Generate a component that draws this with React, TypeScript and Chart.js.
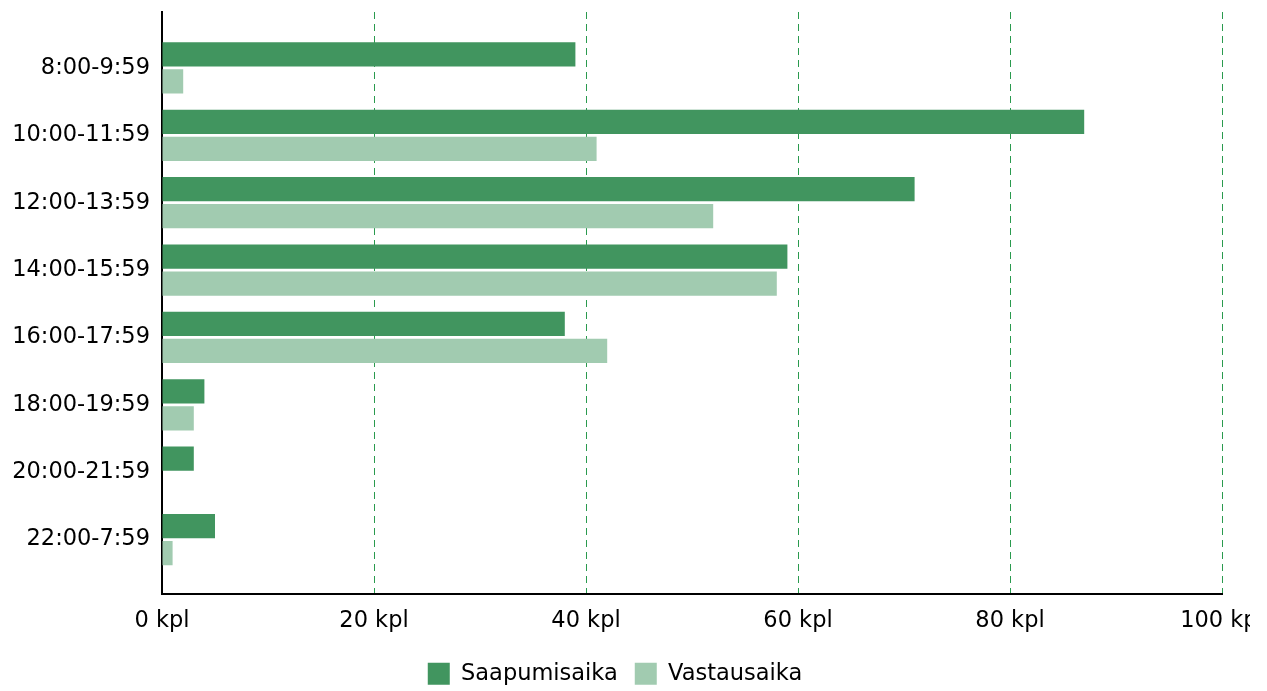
import React, { useEffect, useRef } from "react";
import { Chart, registerables } from "chart.js";

Chart.register(...registerables);

const categories = [
  "8:00-9:59",
  "10:00-11:59",
  "12:00-13:59",
  "14:00-15:59",
  "16:00-17:59",
  "18:00-19:59",
  "20:00-21:59",
  "22:00-7:59",
];
const saapumisaika = [39, 87, 71, 59, 38, 4, 3, 5];
const vastausaika = [2, 41, 52, 58, 42, 3, 0, 1];
const xTicks = [0, 20, 40, 60, 80, 100];
const seriesNames = ["Saapumisaika", "Vastausaika"];

const CANVAS_W = 1259;
const CANVAS_H = 687;

export default function App() {
  const ref = useRef<HTMLCanvasElement | null>(null);

  useEffect(() => {
    if (!ref.current) return;
    document.body.style.overflow = "hidden";
    Chart.defaults.font.family = "'DejaVu Sans', sans-serif";
    Chart.defaults.font.size = 22.5;
    Chart.defaults.color = "#000";
    const chart = new Chart(ref.current, {
      type: "bar",
      data: {
        datasets: [
          {
            label: seriesNames[0],
            data: saapumisaika.map((v, i) => ({ x: v, y: i })),
            backgroundColor: "#41955f",
            borderWidth: 0,
          },
          {
            label: seriesNames[1],
            data: vastausaika.map((v, i) => ({ x: v, y: i })),
            backgroundColor: "#a1cbb0",
            borderWidth: 0,
          },
        ],
      },
      options: {
        indexAxis: "y",
        responsive: false,
        animation: false,
        layout: { padding: { top: 4, right: 45, left: 0, bottom: 0 } },
        plugins: {
          legend: {
            position: "bottom",
            labels: {
              boxWidth: 22,
              boxHeight: 22,
              padding: 17,
              font: { size: 22.5 },
              color: "#000",
            },
          },
          tooltip: { enabled: false },
        },
        scales: {
          y: {
            type: "linear",
            reverse: true,
            offset: false,
            min: -0.83,
            max: 7.8,
            afterBuildTicks: (scale: any) => {
              scale.ticks = categories.map((_, i) => ({ value: i }));
            },
            afterFit: (scale: any) => {
              scale.width = 154;
              scale.paddingTop = 0;
              scale.paddingBottom = 0;
            },
            ticks: {
              padding: 12,
              autoSkip: false,
              callback: (v: any) => categories[v as number] ?? "",
            },
            grid: { display: false, drawTicks: false, offset: false },
            border: { color: "#000", width: 2 },
          },
          x: {
            type: "linear",
            min: 0,
            max: 100,
            afterBuildTicks: (scale: any) => {
              scale.ticks = xTicks.map((v) => ({ value: v }));
            },
            afterFit: (scale: any) => {
              scale.paddingLeft = 0;
              scale.paddingRight = 0;
              scale.height = 52;
            },
            ticks: {
              padding: 14,
              maxRotation: 0,
              callback: (v: any) => `${v} kpl`,
            },
            grid: { color: "#2a9a4e", lineWidth: 1, drawTicks: false },
            border: { color: "#000", width: 2, dash: [7, 5] },
          },
        },
      },
    });
    return () => chart.destroy();
  }, []);

  return (
    <div style={{ width: 1242, height: 683, overflow: "hidden" }}>
      <canvas
        ref={ref}
        width={CANVAS_W}
        height={CANVAS_H}
        style={{ width: CANVAS_W, height: CANVAS_H, display: "block" }}
      />
    </div>
  );
}
